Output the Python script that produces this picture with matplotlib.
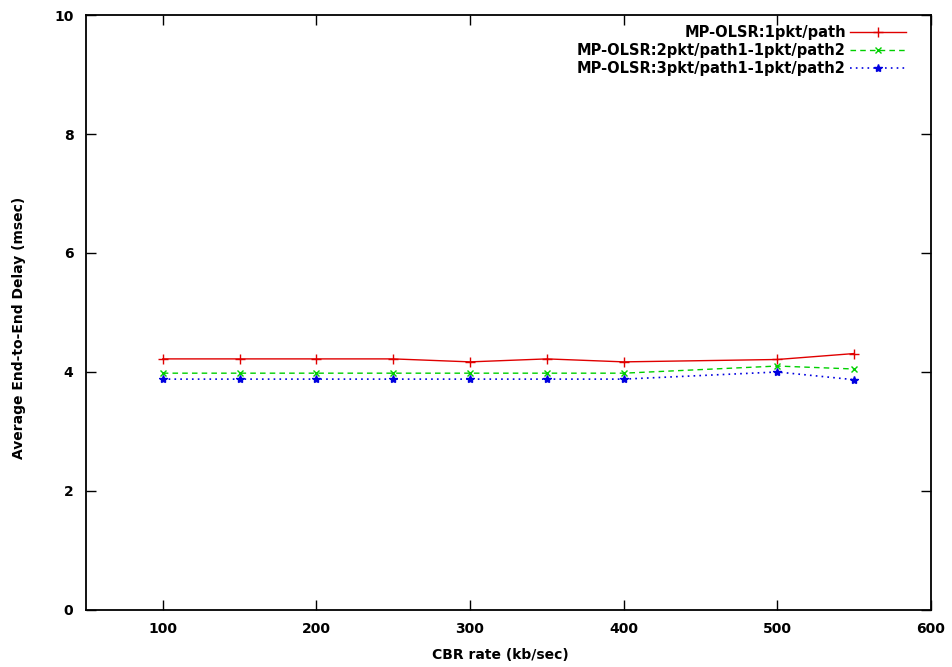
import matplotlib
matplotlib.use("Agg")
import matplotlib.pyplot as plt

# === DATA ===
cbr_rate = [100, 150, 200, 250, 300, 350, 400, 500, 550]
delay_1pkt = [4.22, 4.22, 4.22, 4.22, 4.17, 4.22, 4.17, 4.21, 4.31]
delay_2pkt = [3.98, 3.98, 3.98, 3.98, 3.98, 3.98, 3.98, 4.10, 4.05]
delay_3pkt = [3.88, 3.88, 3.88, 3.88, 3.88, 3.88, 3.88, 4.00, 3.87]

labels = [
    "MP-OLSR:1pkt/path",
    "MP-OLSR:2pkt/path1-1pkt/path2",
    "MP-OLSR:3pkt/path1-1pkt/path2",
]
x_ticks = [100, 200, 300, 400, 500, 600]
y_ticks = [0, 2, 4, 6, 8, 10]

plt.rcParams["font.family"] = ["DejaVu Sans"]
plt.rcParams["font.weight"] = "bold"

fig = plt.figure(figsize=(9.52, 6.67), dpi=100)
ax = fig.add_axes([0.0903, 0.0855, 0.8876, 0.892])

ax.plot(cbr_rate, delay_1pkt, color="#e00000", linestyle="-", marker="+",
        markersize=7, linewidth=1, label=labels[0])
ax.plot(cbr_rate, delay_2pkt, color="#00d000", linestyle=(0, (4, 3)), marker="x",
        markersize=5, linewidth=1, label=labels[1])
ax.plot(cbr_rate, delay_3pkt, color="#0000e0", linestyle=(0, (1, 2.5)), marker="*",
        markersize=6, linewidth=1.2, label=labels[2])

ax.set_xlim(50, 600)
ax.set_ylim(0, 10)
ax.set_xticks(x_ticks)
ax.set_yticks(y_ticks)
ax.tick_params(direction="in", length=7, width=1, top=True, right=True,
               labelsize=10, pad=9)
for s in ax.spines.values():
    s.set_linewidth(1.3)

ax.set_xlabel("CBR rate (kb/sec)", fontsize=10, fontweight="bold", labelpad=8)
ax.set_ylabel("Average End-to-End Delay (msec)", fontsize=10, fontweight="bold",
              labelpad=20)
ax.xaxis.label.set_x(0.49)
ax.yaxis.label.set_y(0.474)

leg = ax.legend(loc="upper right", frameon=False, markerfirst=False,
                fontsize=10.5, handlelength=3.8, labelspacing=0.2,
                borderaxespad=0.3, handletextpad=0.3,
                bbox_to_anchor=(0.982, 1.0))
for t in leg.get_texts():
    t.set_ha("right")
leg._legend_box.align = "right"

fig.savefig("out.png", dpi=100)
